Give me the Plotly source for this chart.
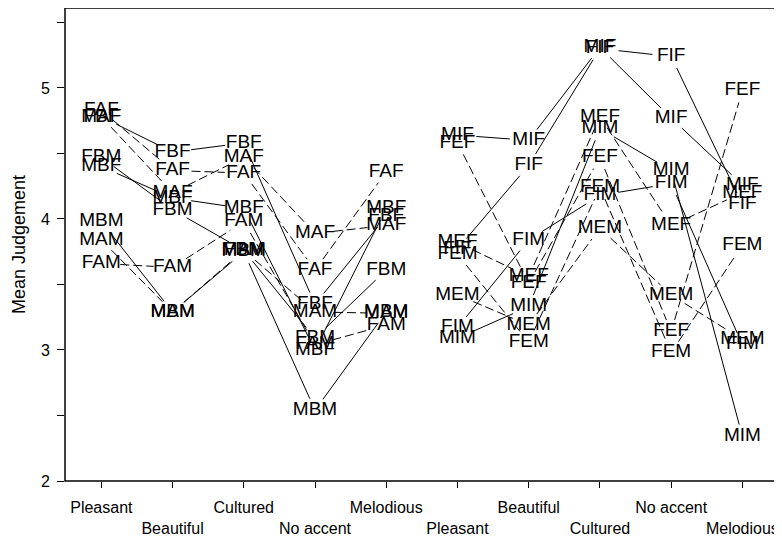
import math
import plotly.graph_objects as go

# ---------------- data ----------------
attributes = ["Pleasant", "Beautiful", "Cultured", "No accent", "Melodious"]
x_left = [1, 2, 3, 4, 5]
x_right = [6, 7, 8, 9, 10]
tick_vals = list(range(1, 11))
tick_text = attributes + attributes
y_tick_vals = [2, 2.5, 3, 3.5, 4, 4.5, 5, 5.5]
y_tick_text = ["2", "", "3", "", "4", "", "5", ""]

# left group (A / B)
FAF = [4.83, 4.37, 4.35, 3.61, 4.36]
FBF = [4.78, 4.51, 4.58, 3.35, 4.02]
MAF = [4.78, 4.20, 4.47, 3.89, 3.95]
MBF = [4.40, 4.16, 4.08, 3.00, 4.08]
FAM = [3.66, 3.63, 3.98, 3.04, 3.19]
FBM = [4.47, 4.07, 3.76, 3.09, 3.61]
MAM = [3.84, 3.29, 3.76, 3.29, 3.28]
MBM = [3.98, 3.29, 3.75, 2.54, 3.29]
# right group (I / E)
FIF = [3.77, 4.41, 5.30, 5.24, 4.11]
MIF = [4.64, 4.60, 5.31, 4.77, 4.26]
FEF = [4.58, 3.51, 4.47, 3.14, 4.98]
MEF = [3.82, 3.56, 4.78, 3.95, 4.20]
FIM = [3.17, 3.84, 4.18, 4.27, 3.04]
MIM = [3.09, 3.33, 4.69, 4.37, 2.34]
FEM = [3.73, 3.06, 4.24, 2.98, 3.80]
MEM = [3.42, 3.19, 3.93, 3.42, 3.08]

left_series = {"FAF": FAF, "FBF": FBF, "MAF": MAF, "MBF": MBF,
               "FAM": FAM, "FBM": FBM, "MAM": MAM, "MBM": MBM}
right_series = {"FIF": FIF, "MIF": MIF, "FEF": FEF, "MEF": MEF,
                "FIM": FIM, "MIM": MIM, "FEM": FEM, "MEM": MEM}

# ---------------- layout geometry ----------------
# (the page body adds an 8px offset, compensated in the margins)
W, H = 782, 539
M_L, M_R, M_T, M_B = 57, 12, 0, 66
X_RANGE = [0.49, 10.5]
Y_RANGE = [2.0, 5.61]
px_per_x = (W - M_L - M_R) / (X_RANGE[1] - X_RANGE[0])
px_per_y = (H - M_T - M_B) / (Y_RANGE[1] - Y_RANGE[0])
GAP_A, GAP_B = 19.0, 12.0   # half-gap (px) around each label, ellipse


def gapped(xs, ys):
    """Segments between consecutive points, trimmed so they stop at the labels."""
    ox, oy = [], []
    for i in range(len(xs) - 1):
        x1, y1, x2, y2 = xs[i], ys[i], xs[i + 1], ys[i + 1]
        dxp = (x2 - x1) * px_per_x
        dyp = (y2 - y1) * px_per_y
        L = math.hypot(dxp, dyp)
        if L == 0:
            continue
        ux, uy = dxp / L, dyp / L
        d = 1.0 / math.sqrt((ux / GAP_A) ** 2 + (uy / GAP_B) ** 2)
        t = d / L
        if t >= 0.5:
            continue
        ox += [x1 + t * (x2 - x1), x2 - t * (x2 - x1), None]
        oy += [y1 + t * (y2 - y1), y2 - t * (y2 - y1), None]
    return ox, oy


FONT = "Liberation Sans, Arial, Helvetica, sans-serif"
fig = go.Figure()

for xs, group in ((x_left, left_series), (x_right, right_series)):
    for name, ys in group.items():
        dashed = name[1] in ("A", "E")
        lx, ly = gapped(xs, ys)
        fig.add_trace(go.Scatter(
            x=lx, y=ly, mode="lines",
            line=dict(color="black", width=1, dash="9px,4px" if dashed else "solid"),
            hoverinfo="skip", showlegend=False, cliponaxis=False))
        fig.add_trace(go.Scatter(
            x=xs, y=ys, mode="text", text=[name] * len(xs),
            textposition="middle center",
            textfont=dict(family=FONT, size=19, color="black"),
            name=name, showlegend=False, cliponaxis=False))

fig.update_layout(
    width=W, height=H,
    margin=dict(l=M_L, r=M_R, t=M_T, b=M_B, pad=0),
    paper_bgcolor="white", plot_bgcolor="white",
    font=dict(family=FONT, color="black"),
    showlegend=False,
    shapes=[dict(type="rect", xref="paper", yref="paper", x0=0, y0=0, x1=1, y1=1,
                 line=dict(color="black", width=1.5), fillcolor="rgba(0,0,0,0)", layer="above")],
)
fig.update_xaxes(
    range=X_RANGE, tickmode="array", tickvals=tick_vals,
    ticktext=[t if i % 2 == 0 else "<br>" + t for i, t in enumerate(tick_text)],
    tickangle=0, automargin=False, ticklabelstandoff=6,
    ticks="outside", ticklen=6, tickwidth=1, tickcolor="black",
    tickfont=dict(family=FONT, size=16, color="black"),
    showline=False, showgrid=False, zeroline=False,
)
fig.update_yaxes(
    range=Y_RANGE, tickmode="array", tickvals=y_tick_vals, ticktext=y_tick_text,
    automargin=False, ticklabelstandoff=4,
    ticks="outside", ticklen=7, tickwidth=1, tickcolor="black",
    tickfont=dict(family=FONT, size=16, color="black"),
    showline=False, showgrid=False, zeroline=False,
    title=dict(text="Mean Judgement", font=dict(family=FONT, size=18, color="black"), standoff=10),
)

fig.write_html("out.html")
